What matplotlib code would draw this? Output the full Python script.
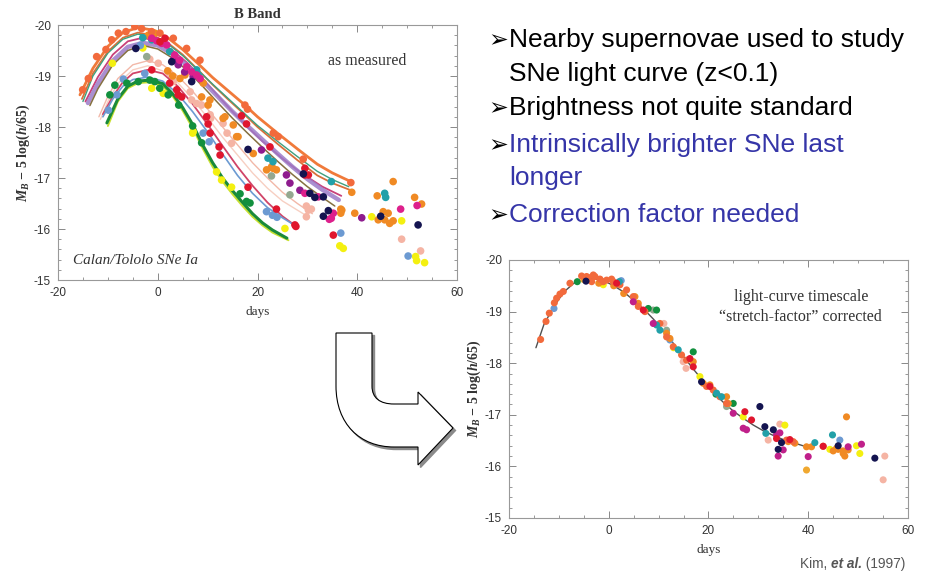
import matplotlib
matplotlib.use("Agg")
import matplotlib.pyplot as plt
from matplotlib.path import Path
from matplotlib.patches import PathPatch
from matplotlib.ticker import MultipleLocator

plt.rcParams['axes.unicode_minus'] = False
plt.rcParams['mathtext.fontset'] = 'custom'
plt.rcParams['mathtext.rm'] = 'Liberation Serif:bold'
plt.rcParams['mathtext.it'] = 'Liberation Serif:italic'
plt.rcParams['mathtext.bf'] = 'Liberation Serif:bold:italic'

# ---- left panel: fitted light curves (day, mag) ----
curve_a = [(-15.6, -18.63), (-13, -19.15), (-10, -19.58), (-7, -19.85), (-4, -19.95), (-1, -19.9),
           (2, -19.75), (5, -19.52), (8, -19.25), (11, -18.97), (14, -18.72), (17, -18.47),
           (20, -18.2), (24, -17.88), (28, -17.57), (32, -17.27), (35, -17.1), (38.9, -16.92)]
curve_b = [(-15.2, -18.55), (-13, -19.05), (-10, -19.48), (-7, -19.75), (-4, -19.85), (-1, -19.8),
           (2, -19.65), (5, -19.42), (8, -19.13), (11, -18.83), (14, -18.55), (17, -18.28),
           (20, -18.0), (24, -17.67), (28, -17.35), (32, -17.05), (35, -16.9), (38.7, -16.76)]
curve_c = [(-15, -18.5), (-13, -19.0), (-10, -19.45), (-7, -19.72), (-4, -19.82), (-1, -19.78),
           (2, -19.63), (5, -19.4), (8, -19.12), (11, -18.84), (14, -18.57), (17, -18.3),
           (20, -18.03), (24, -17.72), (28, -17.42), (32, -17.13), (35, -16.97), (38.3, -16.83)]
curve_d = [(-14.5, -18.5), (-12, -18.98), (-9, -19.42), (-6, -19.68), (-3, -19.75), (0, -19.68),
           (3, -19.5), (6, -19.25), (9, -18.95), (12, -18.62), (15, -18.3), (18, -18.0),
           (21, -17.72), (25, -17.38), (29, -17.08), (33, -16.83), (36.8, -16.65)]
curve_e = [(-14, -18.47), (-12, -18.85), (-9, -19.3), (-6, -19.57), (-3, -19.65), (0, -19.6),
           (3, -19.43), (6, -19.2), (9, -18.9), (12, -18.6), (15, -18.3), (18, -18.02),
           (21, -17.75), (24, -17.48), (27, -17.22), (30, -16.98), (33, -16.77), (36.3, -16.57)]
curve_f = [(-13.6, -18.42), (-12, -18.75), (-9, -19.22), (-6, -19.5), (-3, -19.6), (0, -19.53),
           (3, -19.35), (6, -19.1), (9, -18.8), (12, -18.48), (15, -18.17), (18, -17.88),
           (21, -17.6), (24, -17.33), (27, -17.07), (30, -16.83), (33, -16.62), (35.5, -16.45)]
curve_g = [(-11.8, -18.2), (-10, -18.6), (-8, -18.95), (-5, -19.22), (-2, -19.3), (1, -19.22),
           (4, -19.0), (7, -18.7), (10, -18.35), (13, -18.0), (16, -17.65), (19, -17.3),
           (22, -17.0), (25, -16.72), (28, -16.5), (31, -16.3)]
curve_h = [(-11.5, -18.15), (-10, -18.5), (-8, -18.85), (-5, -19.12), (-2, -19.2), (1, -19.1),
           (4, -18.87), (7, -18.55), (10, -18.18), (13, -17.8), (16, -17.45), (19, -17.1),
           (22, -16.8), (25, -16.55), (29.5, -16.28)]
curve_i = [(-11, -18.25), (-9, -18.6), (-7, -18.88), (-5, -19.05), (-2, -19.12), (1, -19.05),
           (4, -18.8), (7, -18.45), (10, -18.05), (13, -17.63), (16, -17.22), (19, -16.85),
           (22, -16.52), (25, -16.25), (27.8, -16.05)]
curve_j = [(-11, -18.2), (-9, -18.55), (-7, -18.8), (-5, -18.93), (-2, -18.98), (1, -18.9),
           (4, -18.65), (7, -18.3), (10, -17.9), (13, -17.47), (16, -17.05), (19, -16.7),
           (22, -16.42), (25, -16.22), (27, -16.1)]
curve_k = [(-10.2, -18.08), (-8, -18.55), (-6, -18.8), (-4, -18.9), (-1.5, -18.92), (1, -18.85),
           (3, -18.65), (5, -18.38), (7, -18.05), (9, -17.65), (11, -17.3), (13, -17.0),
           (15, -16.75), (17, -16.52), (19, -16.3), (21, -16.12), (23, -15.98), (25.9, -15.82)]
curve_l = [(-10, -18.02), (-8, -18.5), (-6, -18.76), (-4, -18.86), (-1.5, -18.88), (1, -18.8),
           (3, -18.6), (5, -18.32), (7, -17.98), (9, -17.58), (11, -17.22), (13, -16.93),
           (15, -16.68), (17, -16.45), (19, -16.24), (21, -16.07), (23, -15.93), (26.2, -15.78)]

# ---- left panel: observations ----
left_tomato = [(-15.05, -18.73), (-13.92, -18.95), (-12.25, -19.38), (-10.38, -19.52), (-9.24, -19.71),
               (-7.9, -19.84), (-6.37, -19.87), (-4.6, -19.97), (-3.23, -19.93), (-1.23, -19.87),
               (0.44, -19.84), (3.12, -19.74), (5.79, -19.54), (8.46, -19.31), (17.48, -18.43),
               (18.0, -18.35), (23.16, -17.88), (24.16, -17.81), (29.17, -17.37), (38.72, -16.91)]
left_orange = [(-1.9, -19.8), (-0.6, -19.84), (2.0, -19.1), (3.0, -19.0), (4.45, -18.95), (5.45, -19.02),
               (8.8, -18.59), (9.13, -18.86), (10.1, -18.43), (10.46, -18.53), (13.1, -18.17),
               (13.47, -18.2), (15.14, -18.04), (15.81, -17.81), (16.1, -17.81), (19.15, -17.48),
               (21.82, -17.16), (22.82, -17.22), (23.1, -17.19), (23.8, -17.16), (36.7, -16.39),
               (36.7, -16.31), (36.9, -16.37), (38.9, -16.72), (39.5, -16.31), (44.0, -16.65),
               (44.2, -16.18), (45.2, -16.34), (45.5, -16.18), (46.2, -16.31), (46.5, -16.11),
               (47.2, -16.16), (47.2, -16.93), (51.5, -16.62), (52.9, -16.49)]
left_red = [(0.44, -19.67), (1.45, -19.74), (-1.2, -19.12), (2.4, -18.86), (3.8, -18.73), (4.1, -18.63),
            (4.8, -18.59), (9.8, -18.2), (10.1, -18.06), (10.5, -17.88), (12.3, -17.61), (12.5, -17.45),
            (16.8, -18.22), (17.8, -18.06), (18.1, -16.82), (22.5, -17.61), (23.8, -16.39),
            (27.5, -16.08), (27.7, -16.05), (29.5, -17.19), (29.5, -17.06), (30.2, -17.06), (35.2, -15.88)]
left_pink = [(-1.6, -19.33), (0.1, -19.25), (2.4, -19.05), (3.1, -18.89), (6.5, -18.69), (6.8, -18.53),
             (7.8, -18.46), (8.8, -18.43), (10.5, -18.24), (10.6, -18.17), (13.1, -18.07), (13.9, -17.88),
             (14.8, -17.68), (29.8, -16.45), (30.2, -16.37), (30.8, -16.39), (29.8, -16.24),
             (48.9, -15.8), (52.7, -15.57)]
left_steel = [(-9.9, -18.33), (-8.2, -18.63), (-6.9, -18.94), (-3.5, -19.6), (-2.6, -19.05), (9.1, -17.88),
              (10.3, -17.71), (21.8, -16.34), (23.0, -16.27), (23.9, -16.23), (36.7, -15.92), (50.2, -15.47)]
left_green = [(-9.6, -18.63), (-8.6, -18.82), (-6.2, -18.86), (-3.9, -18.89), (-1.6, -18.92), (-0.6, -18.89),
              (0.4, -18.76), (2.1, -18.63), (4.2, -18.43), (7.0, -18.02), (8.8, -17.69), (16.5, -16.69),
              (17.8, -16.54), (18.5, -16.51)]
left_yellow = [(-9.1, -19.25), (-3.0, -19.55), (-1.2, -18.76), (1.1, -18.66), (7.1, -17.91), (7.0, -17.88),
               (11.8, -17.12), (12.8, -16.96), (14.8, -16.82), (25.5, -16.01), (36.5, -15.67), (37.2, -15.62),
               (42.9, -16.24), (48.9, -16.16), (51.7, -15.46), (51.9, -15.38), (53.5, -15.34)]
left_navy = [(-4.4, -19.54), (2.8, -19.28), (6.8, -18.89), (18.1, -17.56), (29.2, -17.08), (30.5, -16.7),
             (31.5, -16.62), (33.2, -16.63), (33.2, -16.25), (34.2, -16.36), (44.7, -16.25), (52.2, -16.08)]
left_hotpink = [(-1.2, -19.74), (-0.2, -19.69), (0.8, -19.64), (1.8, -19.61), (3.4, -19.41), (4.4, -19.31),
                (5.8, -19.18), (6.8, -19.08), (7.8, -19.02), (8.5, -18.95), (29.5, -16.7), (32.2, -16.63),
                (34.4, -16.19), (34.8, -16.21), (35.2, -16.31), (48.7, -16.39), (52.0, -16.46)]
left_purple = [(3.1, -19.31), (4.1, -19.22), (5.4, -19.08), (7.1, -18.99), (20.8, -17.55), (25.8, -17.06),
               (26.5, -16.9), (28.5, -16.76), (40.9, -16.22)]
left_teal = [(-3.0, -19.75), (-1.2, -19.71), (2.4, -19.48), (7.8, -19.12), (8.1, -19.02), (22.1, -17.39),
             (23.1, -17.32), (34.8, -16.93), (45.5, -16.7), (45.7, -16.62)]
left_sage = [(-2.2, -19.38), (22.8, -17.04), (26.5, -16.67)]

# ---- right panel: stretch-corrected template and observations ----
right_curve = [(-14.6, -18.3), (-13, -18.75), (-11, -19.1), (-9, -19.38), (-7, -19.55), (-5, -19.62),
               (-3, -19.64), (-1, -19.6), (1, -19.5), (3, -19.38), (5, -19.22), (7, -19.05),
               (9, -18.85), (11, -18.62), (13, -18.38), (15, -18.13), (17, -17.88), (19, -17.65),
               (21, -17.43), (23, -17.24), (25, -17.07), (27, -16.93), (29, -16.8), (31, -16.69),
               (33, -16.6), (35, -16.52), (37, -16.46), (39.6, -16.38)]
right_tomato = [(-13.66, -18.46), (-12.58, -18.81), (-11.92, -18.97), (-10.91, -19.17), (-10.45, -19.26),
                (-9.78, -19.34), (-9.11, -19.39), (-7.78, -19.55), (-5.44, -19.69), (-4.44, -19.68),
                (-4.1, -19.66), (-3.1, -19.71), (-2.77, -19.68), (-3.43, -19.58), (-1.76, -19.63),
                (-1.1, -19.58), (-0.43, -19.61), (0.57, -19.63), (0.91, -19.58), (2.24, -19.52),
                (3.58, -19.42), (4.92, -19.29), (5.92, -19.1), (7.26, -19.0), (10.26, -18.77),
                (11.6, -18.51), (12.93, -18.32), (14.6, -18.16), (15.6, -18.06), (19.61, -17.55),
                (20.95, -17.48), (22.28, -17.35), (23.62, -17.22), (35.65, -16.51), (36.98, -16.48)]
right_orange = [(-2.0, -19.55), (1.0, -19.5), (3.0, -19.35), (5.25, -19.29), (5.92, -19.16), (11.6, -18.58),
                (12.26, -18.48), (16.94, -18.03), (18.94, -17.61), (20.28, -17.58), (23.62, -17.35),
                (23.96, -17.22), (35.98, -16.48), (37.32, -16.45), (39.65, -16.38), (40.65, -16.38),
                (42.99, -16.39), (45.0, -16.3), (45.67, -16.35), (46.0, -16.33), (47.0, -16.3),
                (47.0, -16.25), (47.33, -16.2), (48.0, -16.32), (47.67, -16.96)]
right_gold = [(-5.0, -19.62), (39.65, -15.93)]
right_navy = [(-4.57, -19.59), (18.61, -17.64), (30.3, -17.16), (31.3, -16.77), (33.0, -16.71),
              (34.64, -16.46), (33.97, -16.33), (46.0, -16.4), (53.35, -16.16)]
right_green = [(-6.31, -19.58), (7.92, -19.06), (9.59, -19.03), (16.94, -18.22), (21.5, -17.4), (24.96, -17.22)]
right_teal = [(2.11, -19.58), (9.59, -18.74), (10.26, -18.64), (13.93, -18.26), (21.62, -17.42),
              (22.62, -17.35), (31.5, -16.64), (41.32, -16.46), (44.86, -16.61)]
right_steel = [(-10.98, -19.06), (2.5, -19.6), (12.26, -18.45), (46.33, -16.51)]
right_yellow = [(-1.1, -19.52), (13.0, -18.3), (18.28, -17.74), (26.96, -16.96), (35.31, -16.8),
                (44.33, -16.33), (49.67, -16.4), (50.34, -16.25)]
right_red = [(1.58, -19.55), (6.92, -19.03), (16.27, -18.09), (16.94, -17.93), (20.28, -17.55),
             (27.29, -17.06), (28.63, -16.9), (33.64, -16.54), (36.31, -16.52), (42.99, -16.39)]
right_magenta = [(4.92, -19.19), (8.92, -18.77), (24.96, -17.03), (26.96, -16.74), (27.63, -16.71),
                 (33.64, -16.61), (34.31, -16.65), (33.97, -16.2), (34.98, -16.32), (39.99, -16.19),
                 (48.0, -16.38), (50.67, -16.43)]
right_pink = [(11.06, -18.77), (14.93, -18.03), (15.5, -17.9), (31.97, -16.51), (34.31, -16.82),
              (55.35, -16.2), (55.02, -15.74)]
right_sage = [(8.92, -19.03), (11.6, -18.64), (23.62, -17.16)]

bullets = [("Nearby supernovae used to study", "black", True),
           ("SNe light curve (z<0.1)", "black", False),
           ("Brightness not quite standard", "black", True),
           ("Intrinsically brighter SNe last", "#3535A8", True),
           ("longer", "#3535A8", False),
           ("Correction factor needed", "#3535A8", True)]

COLORS = {'tomato': '#F26A3C', 'orange': '#F08A24', 'red': '#E0162E', 'pink': '#F5B4A4',
          'steel': '#6C9AD2', 'green': '#12903E', 'yellow': '#F4F010', 'navy': '#141450',
          'hotpink': '#DD208C', 'purple': '#8E1C8E', 'teal': '#22A0A8', 'sage': '#94A890',
          'gold': '#F0A830', 'magenta': '#C0208A'}

W, H = 928, 575
fig = plt.figure(figsize=(W / 100, H / 100), dpi=100)
fig.patch.set_facecolor('white')


def px_axes(x0, y0, x1, y1):
    # pixel box (top-left origin) -> figure fraction
    return fig.add_axes([x0 / W, 1 - y1 / H, (x1 - x0) / W, (y1 - y0) / H])


def style(ax):
    ax.set_xlim(-20, 60)
    ax.set_ylim(-15, -20)
    ax.set_xticks([-20, 0, 20, 40, 60])
    ax.set_yticks([-20, -19, -18, -17, -16, -15])
    ax.xaxis.set_minor_locator(MultipleLocator(5))
    ax.yaxis.set_minor_locator(MultipleLocator(0.2))
    ax.tick_params(which='both', direction='in', top=True, right=True, color='#888888',
                   labelsize=8.5, labelcolor='#333333', pad=5)
    ax.tick_params(which='major', length=5, width=0.7)
    ax.tick_params(which='minor', length=2.5, width=0.6)
    for lab in ax.get_xticklabels() + ax.get_yticklabels():
        lab.set_fontfamily('Liberation Sans')
    for s in ax.spines.values():
        s.set_color('#999999')
        s.set_linewidth(0.8)
    ax.set_xlabel('days', fontfamily='Liberation Serif', fontsize=9.5, color='#333333', labelpad=5)
    ax.set_ylabel(r'$\mathbf{M_B}$ $-$ 5 log($\mathbf{h}$/65)', fontfamily='Liberation Serif',
                  fontsize=10, fontweight='bold', color='#333333')
    ax.yaxis.set_label_coords(-0.065, 0.5)


def scatter(ax, pts, color, s):
    ax.scatter([p[0] for p in pts], [p[1] for p in pts], s=s, color=color, edgecolors='none', zorder=3)


def line(ax, pts, color, lw, alpha=1.0):
    ax.plot([p[0] for p in pts], [p[1] for p in pts], color=color, lw=lw, alpha=alpha,
            solid_capstyle='round', zorder=2)


# left chart
ax1 = px_axes(58, 25, 457, 280)
style(ax1)
line(ax1, curve_a, '#F07A3A', 2.0)
line(ax1, curve_b, '#D8703A', 1.3)
line(ax1, curve_c, '#3FA07E', 1.0)
line(ax1, curve_d, '#C8407A', 1.3)
line(ax1, curve_e, '#9B7BC8', 3.2, 0.85)
line(ax1, curve_f, '#857040', 1.1)
line(ax1, curve_g, '#F2B8A8', 1.0)
line(ax1, curve_h, '#F7CFC2', 1.0)
line(ax1, curve_i, '#D04468', 1.3)
line(ax1, curve_j, '#6C9AD2', 1.2)
line(ax1, curve_l, '#C8E030', 1.4)
line(ax1, curve_k, '#1A8A3A', 2.2)
for pts, key in [(left_pink, 'pink'), (left_sage, 'sage'), (left_yellow, 'yellow'), (left_steel, 'steel'),
                 (left_green, 'green'), (left_orange, 'orange'), (left_tomato, 'tomato'), (left_teal, 'teal'),
                 (left_purple, 'purple'), (left_hotpink, 'hotpink'), (left_red, 'red'), (left_navy, 'navy')]:
    scatter(ax1, pts, COLORS[key], 30)
ax1.text(42, -19.3, 'as measured', fontfamily='Liberation Serif', fontsize=11.5, color='#333333',
         ha='center', va='center')
ax1.text(-17, -15.38, 'Calan/Tololo SNe Ia', fontfamily='Liberation Serif', fontstyle='italic',
         fontsize=11, color='#333333', ha='left', va='center')
ax1.set_title('B Band', fontfamily='Liberation Serif', fontweight='bold', fontsize=10.5,
              color='#333333', pad=5)

# right chart
ax2 = px_axes(509, 260, 908, 518)
style(ax2)
line(ax2, right_curve, '#505050', 1.0)
for pts, key in [(right_pink, 'pink'), (right_sage, 'sage'), (right_yellow, 'yellow'), (right_steel, 'steel'),
                 (right_green, 'green'), (right_orange, 'orange'), (right_gold, 'gold'), (right_tomato, 'tomato'),
                 (right_teal, 'teal'), (right_magenta, 'magenta'), (right_red, 'red'), (right_navy, 'navy')]:
    scatter(ax2, pts, COLORS[key], 26)
ax2.text(38.5, -19.28, 'light-curve timescale', fontfamily='Liberation Serif', fontsize=11.5,
         color='#333333', ha='center', va='center')
ax2.text(38.5, -18.9, '\u201cstretch-factor\u201d corrected', fontfamily='Liberation Serif', fontsize=11.5,
         color='#333333', ha='center', va='center')

# overlay in slide pixels: bullets, arrow, citation
ov = fig.add_axes([0, 0, 1, 1], zorder=-1)
ov.set_xlim(0, W)
ov.set_ylim(H, 0)
ov.axis('off')

baselines = [47, 81, 115, 152, 185, 222]
for (txt, col, has_bullet), yb in zip(bullets, baselines):
    if has_bullet:
        ov.text(488, yb, '\u27a2', fontfamily=['DejaVu Sans'], fontsize=17, color='black',
                ha='left', va='baseline')
    ov.text(509, yb, txt, fontfamily=['Liberation Sans', 'DejaVu Sans'], fontsize=19, color=col,
            ha='left', va='baseline')

t1 = ov.text(800, 568, 'Kim, ', fontfamily='Liberation Sans', fontsize=9.8, color='#555555',
             ha='left', va='baseline')
t2 = ov.annotate('et al.', xy=(1, 0), xycoords=t1, fontfamily='Liberation Sans', fontsize=9.8,
                 fontweight='bold', fontstyle='italic', color='#555555', ha='left', va='bottom')
ov.annotate(' (1997)', xy=(1, 0), xycoords=t2, fontfamily='Liberation Sans', fontsize=9.8,
            color='#555555', ha='left', va='bottom')


def arrow_path(dx, dy):
    verts = [(336, 333), (372, 333), (372, 386),
             (372, 398), (380, 404), (394, 404),
             (418, 404), (418, 392), (453, 428), (418, 465), (418, 447), (394, 447),
             (360, 447), (336, 424), (336, 386),
             (336, 333)]
    codes = [Path.MOVETO, Path.LINETO, Path.LINETO,
             Path.CURVE4, Path.CURVE4, Path.CURVE4,
             Path.LINETO, Path.LINETO, Path.LINETO, Path.LINETO, Path.LINETO, Path.LINETO,
             Path.CURVE4, Path.CURVE4, Path.CURVE4,
             Path.CLOSEPOLY]
    return Path([(x + dx, y + dy) for x, y in verts], codes)


ov.add_patch(PathPatch(arrow_path(2.5, 2.5), facecolor='#8a8a8a', edgecolor='#8a8a8a', lw=1))
ov.add_patch(PathPatch(arrow_path(0, 0), facecolor='white', edgecolor='black', lw=0.8))

fig.savefig('out.png', dpi=100, facecolor='white')
